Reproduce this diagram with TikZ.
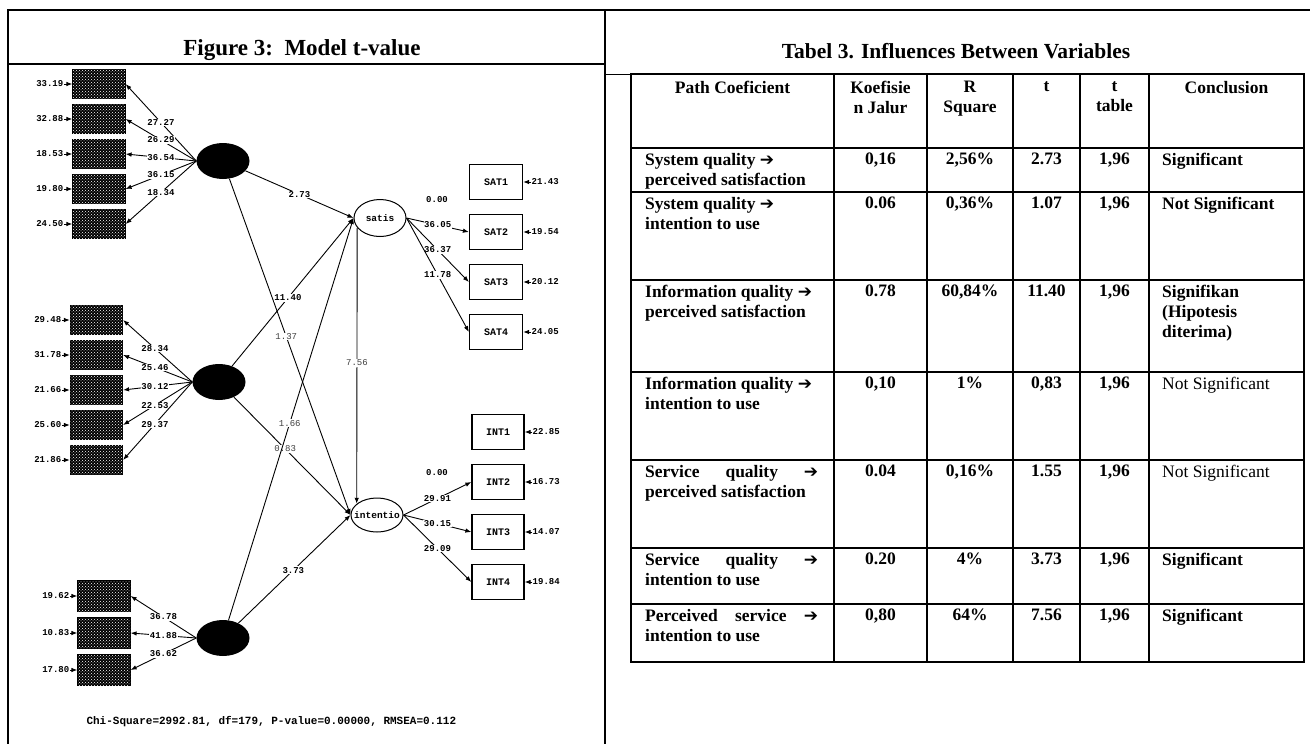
\documentclass[tikz,border=0pt]{standalone}
\usepackage{fontspec}
\setmainfont{Liberation Serif}
\newfontfamily\lismono{Liberation Mono}
\newfontfamily\arrowfont{DejaVu Sans}
\usetikzlibrary{arrows.meta,shapes.geometric,patterns,calc}
\newcommand{\rarr}{{\arrowfont\fontsize{17}{20}\selectfont ➔}}
\newcommand{\tabfont}{\bfseries\fontsize{17.5}{20}\selectfont}
\newcommand{\tabfontr}{\fontsize{17.5}{20}\selectfont}
\newcommand{\labfont}{\lismono\bfseries\fontsize{9}{10}\selectfont}
\newcommand{\lablight}{\lismono\fontsize{9}{10}\selectfont}
\newcommand{\tabrow}[6]{%
  \node[tnum] (k#1) at (880.5,#2) {#3};
  \node[tnum] (rs#1) at (970,#2) {#4};
  \node[tnum] (t#1) at (1046.5,#2) {#5};
  \node[tnum] (tt#1) at (1114.5,#2) {#6};}
\begin{document}
\begin{tikzpicture}[x=1pt,y=-1pt,
  frame/.style={line width=1.8pt},
  tline/.style={line width=1.6pt},
  conn/.style={line width=0.9pt},
  arr/.style={conn,-{Latex[length=6pt,width=4.5pt]}},
  lab/.style={font=\labfont,fill=white,inner sep=0.6pt},
  labl/.style={font=\lablight,text=black!75,fill=white,inner sep=0.6pt},
  errl/.style={font=\labfont,inner sep=0.5pt},
  lv/.style={ellipse,fill=black,minimum width=53pt,minimum height=36pt,inner sep=0pt},
  ov/.style={ellipse,draw,line width=1pt,minimum width=52pt,minimum height=37pt,inner sep=0pt},
  ovtext/.style={font=\lismono\bfseries\fontsize{9.5}{10}\selectfont,inner sep=0pt},
  xbox/.style={draw,line width=1.2pt,fill=black,minimum width=52pt,minimum height=29pt,inner sep=0pt,
     postaction={pattern=crosshatch dots,pattern color=white}},
  ybox/.style={draw,line width=1.2pt,minimum width=53pt,minimum height=35pt,inner sep=0pt,
     font=\lismono\bfseries\fontsize{10}{11}\selectfont},
  tcell/.style={font=\tabfont,inner sep=0pt,align=left},
  tnum/.style={font=\tabfont,inner sep=0pt,align=center,anchor=north}
]
\useasboundingbox (0,0) rectangle (1310,744);
\fill[white] (0,0) rectangle (1310,744);

% ---------- frames ----------
\draw[frame] (8,744) -- (8,10) -- (1310,10);
\draw[frame] (605,10) -- (605,744);
\draw[frame] (8,64) -- (605,64);
\node[font=\bfseries\fontsize{23}{26}\selectfont] (figtitle) at (302,50) {Figure 3:\ \ Model t-value};
\node[font=\bfseries\fontsize{21.5}{24}\selectfont] (tabtitle) at (956,51) {Tabel 3. Influences Between Variables};

% ---------- exogenous 1 ----------
\node[lv] (e1) at (223,161) {};
\foreach \n/\y/\er/\ld in {1/84/33.19/27.27, 2/119/32.88/26.29, 3/154/18.53/36.54, 4/189/19.80/36.15, 5/224/24.50/18.34}{
  \node[xbox] (xa\n) at (99,\y) {};
  \node[errl,anchor=east] (da\n) at (64,\y) {\er};
  \draw[arr] (da\n.east) -- (xa\n.west);
  \draw[arr] (e1.west) -- node[lab,pos=0.5] {\ld} (xa\n.east);
}
% ---------- exogenous 2 ----------
\node[lv] (e2) at (219,382) {};
\foreach \n/\y/\er/\ld in {1/320/29.48/28.34, 2/355/31.78/25.46, 3/390/21.66/30.12, 4/425/25.60/22.53, 5/460/21.86/29.37}{
  \node[xbox] (xb\n) at (96.5,\y) {};
  \node[errl,anchor=east] (db\n) at (62,\y) {\er};
  \draw[arr] (db\n.east) -- (xb\n.west);
  \draw[arr] (e2.west) -- node[lab,pos=0.54] {\ld} (xb\n.east);
}
% ---------- exogenous 3 ----------
\node[lv] (e3) at (223,638) {};
\foreach \n/\y/\er/\ld in {1/596/19.62/36.78, 2/633/10.83/41.88, 3/670/17.80/36.62}{
  \node[xbox,minimum height=30pt] (xc\n) at (104,\y) {};
  \node[errl,anchor=east] (dc\n) at (70,\y) {\er};
  \draw[arr] (dc\n.east) -- (xc\n.west);
  \draw[arr] (e3.west) -- node[lab,pos=0.5] {\ld} (xc\n.east);
}

% ---------- endogenous ----------
\node[ov,label={[ovtext]center:satis}] (satis) at (380,218) {};
\node[ov,minimum height=34pt,label={[ovtext]center:intentio}] (intent) at (377,515) {};

\draw[arr] (e1) -- node[lab,pos=0.5] {2.73} (satis.west);
\draw[arr] (e1) -- node[labl,pos=0.47] {1.37} (intent.west);
\draw[arr] (e2) -- node[lab,pos=0.46] {11.40} (satis.west);
\draw[arr] (e2) -- node[labl,pos=0.44] {0.83} (intent.west);
\draw[arr] (e3) -- node[labl,pos=0.49] {1.66} (satis.west);
\draw[arr] (e3) -- node[lab,pos=0.49] {3.73} (intent.west);
\draw[arr] (satis.203) -- node[labl,pos=0.49] {7.56} (intent.151);

% SAT indicators
\foreach \n/\y/\er in {1/182/21.43, 2/232/19.54, 3/282/20.12, 4/332/24.05}{
  \node[ybox] (s\n) at (496,\y) {SAT\n};
  \node[errl,anchor=west] (es\n) at (531,\y) {\er};
  \draw[arr] (es\n.west) -- (s\n.east);
}
\node[lab] (ls1) at (437,200) {0.00};
\draw[arr] (satis.east) -- node[lab,pos=0.5] {36.05} (s2.west);
\draw[arr] (satis.east) -- node[lab,pos=0.5] {36.37} (s3.west);
\draw[arr] (satis.east) -- node[lab,pos=0.5] {11.78} (s4.west);

% INT indicators
\foreach \n/\y/\er in {1/432/22.85, 2/482/16.73, 3/532/14.07, 4/582/19.84}{
  \node[ybox,minimum width=52pt] (i\n) at (498,\y) {INT\n};
  \node[errl,anchor=west] (ei\n) at (532,\y) {\er};
  \draw[arr] (ei\n.west) -- (i\n.east);
}
\node[lab] (li1) at (437,473) {0.00};
\draw[arr] (intent.east) -- node[lab,pos=0.5] {29.91} (i2.west);
\draw[arr] (intent.east) -- node[lab,pos=0.5] {30.15} (i3.west);
\draw[arr] (intent.east) -- node[lab,pos=0.5] {29.09} (i4.west);

\node[font=\lismono\bfseries\fontsize{11}{12}\selectfont,anchor=west] (chi) at (83,722)
  {Chi-Square=2992.81, df=179, P-value=0.00000, RMSEA=0.112};

% ---------- table ----------
\draw[line width=0.6pt] (605,74) -- (631,74);
\draw[tline] (631,74) rectangle (1304,662);
\foreach \x in {834,927,1013,1080,1149} \draw[tline] (\x,74) -- (\x,662);
\foreach \y in {148,192,280,372,460,548,604} \draw[tline] (631,\y) -- (1304,\y);

% header
\node[tnum] (h1) at (732.5,81) {Path Coeficient};
\node[tnum] (h2) at (880.5,81) {Koefisie\\n Jalur};
\node[tnum] (h3) at (970,81) {R\\Square};
\node[tnum] (h4) at (1046.5,81) {t};
\node[tnum] (h5) at (1114.5,81) {t\\table};
\node[tnum] (h6) at (1226.5,81) {Conclusion};

% rows: first column
\node[tcell,anchor=north west] (p1) at (645,153) {System quality \rarr\\perceived satisfaction};
\node[tcell,anchor=north west] (p2) at (645,197) {System quality \rarr\\intention to use};
\node[tcell,anchor=north west] (p3) at (645,285) {Information quality \rarr\\perceived satisfaction};
\node[tcell,anchor=north west] (p4) at (645,377) {Information quality \rarr\\intention to use};
\node[tcell,anchor=north west] (p5) at (645,465) {\hbox to 173pt{Service\hfill quality\hfill\rarr}\\perceived satisfaction};
\node[tcell,anchor=north west] (p6) at (645,553) {\hbox to 173pt{Service\hfill quality\hfill\rarr}\\intention to use};
\node[tcell,anchor=north west] (p7) at (645,609) {\hbox to 173pt{Perceived\hfill service\hfill\rarr}\\intention to use};

% numbers
\tabrow{1}{153}{0,16}{2,56\%}{2.73}{1,96}
\tabrow{2}{197}{0.06}{0,36\%}{1.07}{1,96}
\tabrow{3}{285}{0.78}{60,84\%}{11.40}{1,96}
\tabrow{4}{377}{0,10}{1\%}{0,83}{1,96}
\tabrow{5}{465}{0.04}{0,16\%}{1.55}{1,96}
\tabrow{6}{553}{0.20}{4\%}{3.73}{1,96}
\tabrow{7}{609}{0,80}{64\%}{7.56}{1,96}

% conclusions
\node[tcell,anchor=north west] (c1) at (1162,153) {Significant};
\node[tcell,anchor=north west] (c2) at (1162,197) {Not Significant};
\node[tcell,anchor=north west] (c3) at (1162,285) {Signifikan\\(Hipotesis\\diterima)};
\node[tcell,anchor=north west,font=\tabfontr] (c4) at (1162,377) {Not Significant};
\node[tcell,anchor=north west,font=\tabfontr] (c5) at (1162,465) {Not Significant};
\node[tcell,anchor=north west] (c6) at (1162,553) {Significant};
\node[tcell,anchor=north west] (c7) at (1162,609) {Significant};
\end{tikzpicture}
\end{document}
